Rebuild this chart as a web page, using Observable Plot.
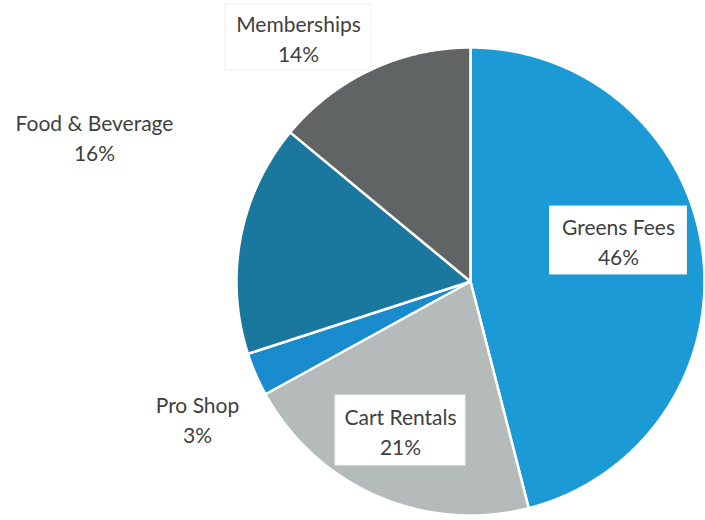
<!DOCTYPE html>
<html><head><meta charset="utf-8">
<script src="https://cdn.jsdelivr.net/npm/d3@7"></script>
<script src="https://cdn.jsdelivr.net/npm/@observablehq/plot@0.6"></script>
<style>body{margin:0;background:#fff}</style>
</head><body><div id="chart"></div>
<script>
// data
const categories = ["Greens Fees", "Cart Rentals", "Pro Shop", "Food & Beverage", "Memberships"];
const shares = [46, 21, 3, 16, 14];
const colors = ["#1b9ad6", "#b5baba", "#1a8cce", "#1a789f", "#616464"];

// layout (pixels)
const W = 705, H = 520, cx = 470, cy = 281, R = 234;
const labelCenters = [[618, 240], [400, 430], [197, 418], [94, 136], [298, 37]];
const boxSizes = [[137, 68], [130, 70], null, null, [146, 66]];

const pie = d3.pie().sort(null).value(d => d)(shares);
const slices = pie.map((s, i) => {
  const n = Math.max(4, Math.ceil((s.endAngle - s.startAngle) / 0.005));
  const p = [{x: 0, y: 0}];
  for (let j = 0; j <= n; j++) {
    const a = s.startAngle + (s.endAngle - s.startAngle) * j / n;
    p.push({x: Math.sin(a), y: Math.cos(a)});
  }
  p.push({x: 0, y: 0});
  return p;
});

const toU = ([px, py]) => [(px - cx) / R, (cy - py) / R];
const labels = categories.map((c, i) => {
  const [u, v] = toU(labelCenters[i]);
  return {text: c + "\n" + shares[i] + "%", u, v};
});
const boxes = categories.map((c, i) => {
  if (!boxSizes[i]) return null;
  const [u, v] = toU(labelCenters[i]);
  const hw = boxSizes[i][0] / 2 / R, hh = boxSizes[i][1] / 2 / R;
  return {x1: u - hw, x2: u + hw, y1: v - hh, y2: v + hh};
}).filter(d => d);

const chart = Plot.plot({
  width: W, height: H,
  margin: 0,
  x: {domain: [-cx / R, (W - cx) / R], axis: null},
  y: {domain: [-(H - cy) / R, cy / R], axis: null},
  style: {fontFamily: "Lato, 'Open Sans', sans-serif", background: "#fff"},
  marks: [
    ...slices.map((p, i) => Plot.line(p, {x: "x", y: "y", fill: colors[i], stroke: "#fff", strokeWidth: 2.5, strokeLinejoin: "round"})),
    Plot.rect(boxes, {x1: "x1", x2: "x2", y1: "y1", y2: "y2", fill: "#fff", stroke: "#f0f0f0", strokeWidth: 1}),
    Plot.text(labels, {x: "u", y: "v", text: "text", fontSize: 21, lineHeight: 1.42, fill: "#3f3f3f", lineAnchor: "middle", textAnchor: "middle"})
  ]
});
document.getElementById("chart").append(chart);
</script>
</body></html>
